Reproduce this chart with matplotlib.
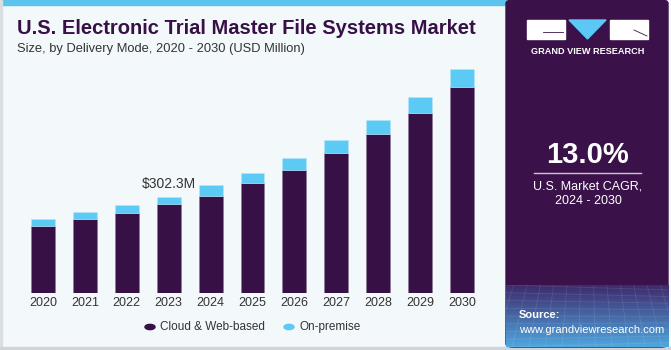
import matplotlib.pyplot as plt
import numpy as np
from matplotlib.patches import Rectangle, FancyBboxPatch, Polygon

plt.rcParams['font.family'] = ['Liberation Sans', 'DejaVu Sans']

years = ['2020', '2021', '2022', '2023', '2024', '2025', '2026', '2027', '2028', '2029', '2030']
cloud = [211.6, 231.6, 251.3, 278.5, 305.4, 344.2, 386.8, 439.0, 498.5, 564.2, 645.6]
on_premise = [20.9, 21.9, 24.1, 23.8, 32.6, 31.3, 35.7, 40.7, 43.8, 51.0, 55.4]
label_year = 3
label_text = '$302.3M'
cagr = '13.0%'

dark = '#371046'
cyan = '#5BCBF5'
bg = '#F3F8FB'

W, H = 671, 350
fig = plt.figure(figsize=(W / 100, H / 100), dpi=100)
fig.patch.set_facecolor(bg)

def fx(x):
    return x / W

def fy(y):
    return 1 - y / H

# frame details
fig.patches.append(Rectangle((0, fy(5)), fx(506), 5 / H, transform=fig.transFigure,
                             color='#5BC3EC', zorder=0))
fig.patches.append(Rectangle((0, 0), fx(2), 1, transform=fig.transFigure,
                             color='#D9DEE2', zorder=0))
fig.patches.append(Rectangle((0, 0), 1, 3 / H, transform=fig.transFigure,
                             color='#D0D4D8', zorder=0))

# right panel
fig.patches.append(FancyBboxPatch((fx(506), fy(347)), fx(162), 347 / H,
                                  boxstyle='round,pad=0,rounding_size=0.01',
                                  transform=fig.transFigure, color='#3A1249', zorder=1))

# source gradient
gax = fig.add_axes([fx(506), fy(347), fx(162), 62 / H], zorder=5)
grad = np.linspace(0, 1, 100)[:, None]
c1 = np.array([0x3E, 0x2A, 0x6C]) / 255
c2 = np.array([0x4F, 0xA6, 0xDE]) / 255
img = c1[None, None, :] * (1 - grad[:, :, None]) + c2[None, None, :] * grad[:, :, None]
img = np.repeat(img, 10, axis=1)
gax.imshow(img, aspect='auto', extent=[0, 1, 1, 0])
for k in np.linspace(-0.2, 1.2, 18):
    gax.plot([k, k + 0.25 * (k - 0.5)], [0, 1], color='white', alpha=0.1, lw=0.6)
for k in np.linspace(0, 1, 9):
    gax.plot([0, 1], [k, k * 0.85 + 0.08], color='white', alpha=0.1, lw=0.6)
gax.text(0.08, 0.52, 'Source:', color='white', fontsize=8, fontweight='bold',
         ha='left', va='center', transform=gax.transAxes)
gax.text(0.08, 0.28, 'www.grandviewresearch.com', color='white', fontsize=8,
         ha='left', va='center', transform=gax.transAxes)
gax.set_xlim(0, 1)
gax.set_ylim(1, 0)
gax.axis('off')

# logo
fig.patches.append(Rectangle((fx(527), fy(39)), fx(38), 19 / H, transform=fig.transFigure,
                             color='white', zorder=3))
fig.patches.append(Rectangle((fx(610), fy(39)), fx(38), 19 / H, transform=fig.transFigure,
                             color='white', zorder=3))
fig.patches.append(Polygon([(fx(569), fy(20)), (fx(606), fy(20)), (fx(587.5), fy(39))],
                           closed=True, transform=fig.transFigure, color='#5BC8F5', zorder=3))
fig.lines.append(plt.Line2D([fx(543), fx(563)], [fy(32), fy(32)], transform=fig.transFigure,
                            color='#3A1249', lw=0.6, zorder=4))
fig.lines.append(plt.Line2D([fx(634), fx(647)], [fy(30), fy(36)], transform=fig.transFigure,
                            color='#3A1249', lw=0.6, zorder=4))
fig.text(fx(587.5), fy(51), 'GRAND VIEW RESEARCH', color='white', fontsize=6.6,
         fontweight='bold', ha='center', va='center')

fig.text(fx(588), fy(155), cagr, color='white', fontsize=21, fontweight='bold',
         ha='center', va='center')
fig.lines.append(plt.Line2D([fx(534), fx(641)], [fy(173), fy(173)], transform=fig.transFigure,
                            color='#CFC4D6', lw=1))
fig.text(fx(588), fy(186), 'U.S. Market CAGR,', color='white', fontsize=9,
         ha='center', va='center')
fig.text(fx(588), fy(201), '2024 - 2030', color='white', fontsize=9,
         ha='center', va='center')

# titles
fig.text(fx(17), fy(29), 'U.S. Electronic Trial Master File Systems Market', color=dark,
         fontsize=14.5, fontweight='bold', ha='left', va='center')
fig.text(fx(17), fy(49), 'Size, by Delivery Mode, 2020 - 2030 (USD Million)', color='#333333',
         fontsize=9.3, ha='left', va='center')

# bars
ax = fig.add_axes([fx(22), fy(293.3), fx(461), (293.3 - 60) / H])
ax.set_facecolor('none')
x = np.arange(len(years))
ax.bar(x, cloud, width=0.57, color=dark, edgecolor='#8A7895', linewidth=0.4)
ax.bar(x, on_premise, bottom=cloud, width=0.57, color=cyan, edgecolor='#B9E6F9', linewidth=0.4)
ax.set_xlim(-0.5, len(years) - 0.5)
ax.set_ylim(0, 233.3 * 3.13)
ax.set_xticks(x)
ax.set_xticklabels(years, fontsize=9, color='#333333')
ax.tick_params(axis='x', length=0, pad=3)
ax.set_yticks([])
for s in ax.spines.values():
    s.set_visible(False)
total = cloud[label_year] + on_premise[label_year]
ax.text(label_year, total + 40, label_text, ha='center', va='center', fontsize=10,
        color='#333333')

# legend
fig.patches.append(plt.Circle((fx(150), fy(327)), 0.0075, transform=fig.transFigure,
                              color=dark))
fig.text(fx(160), fy(327), 'Cloud & Web-based', fontsize=8.5, color='#333333',
         ha='left', va='center')
fig.patches.append(plt.Circle((fx(289), fy(327)), 0.0075, transform=fig.transFigure,
                              color=cyan))
fig.text(fx(299), fy(327), 'On-premise', fontsize=8.5, color='#333333',
         ha='left', va='center')

fig.savefig('out.png', dpi=100, facecolor=fig.get_facecolor())
